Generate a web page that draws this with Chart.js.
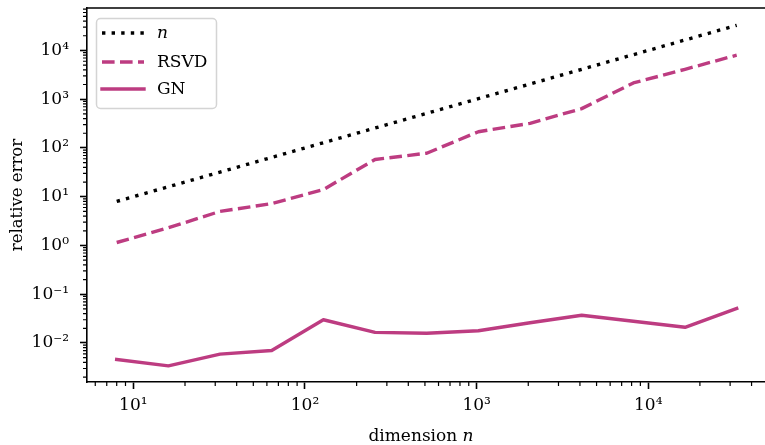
<!DOCTYPE html>
<html>
<head>
<meta charset="utf-8">
<script src="https://cdn.jsdelivr.net/npm/chart.js@4/dist/chart.umd.min.js"></script>
<style>
  html, body { margin: 0; padding: 0; background: #fff; overflow: hidden; }
  #wrap { width: 780px; height: 445px; }
</style>
</head>
<body>
<div id="wrap"><canvas id="c" width="780" height="445"></canvas></div>
<script>
// ---- data ----
const dims = [8, 16, 32, 64, 128, 256, 512, 1024, 2048, 4096, 8192, 16384, 32768];
const nValues = [8, 16, 32, 64, 128, 256, 512, 1024, 2048, 4096, 8192, 16384, 32768];
const rsvdValues = [1.15, 2.3, 5.0, 7.2, 14, 58, 78, 215, 320, 640, 2150, 4100, 8000];
const gnValues = [0.0046, 0.0034, 0.0059, 0.0070, 0.030, 0.0165, 0.0158, 0.0178, 0.026, 0.037, 0.028, 0.021, 0.051];
const seriesLabels = ['n', 'RSVD', 'GN'];
const xTickValues = [10, 100, 1000, 10000];
const xTickLabels = ['10\u00B9', '10\u00B2', '10\u00B3', '10\u2074'];
const yTickValues = [0.01, 0.1, 1, 10, 100, 1000, 10000];
const yTickLabels = ['10\u207B\u00B2', '10\u207B\u00B9', '10\u2070', '10\u00B9', '10\u00B2', '10\u00B3', '10\u2074'];
const xTitle = 'dimension';
const xTitleVar = 'n';
const yTitle = 'relative error';

// ---- styles ----
const MAG = '#bd3c81';
const FONT = 'DejaVu Serif';
const LW = 3.4;
const SPINE = 1.6;

function pts(vals) { return dims.map((d, i) => ({ x: d, y: vals[i] })); }

function minorTicks(lo, hi) {
  const out = [];
  for (let e = Math.floor(Math.log10(lo)); e <= Math.ceil(Math.log10(hi)); e++) {
    for (let m = 2; m <= 9; m++) {
      const v = m * Math.pow(10, e);
      if (v >= lo && v <= hi) out.push(v);
    }
  }
  return out;
}

const styles = [
  { color: '#000', dash: [3.4, 6.2], cap: 'butt' },
  { color: MAG, dash: [12.6, 5.4], cap: 'butt' },
  { color: MAG, dash: [], cap: 'square' }
];

const extras = {
  id: 'extras',
  afterDraw(chart) {
    const ctx = chart.ctx;
    const a = chart.chartArea;
    const xs = chart.scales.x, ys = chart.scales.y;
    ctx.save();
    // top and right spines
    ctx.strokeStyle = '#000';
    ctx.lineWidth = SPINE;
    ctx.beginPath();
    ctx.moveTo(a.left - SPINE / 2, a.top);
    ctx.lineTo(a.right, a.top);
    ctx.lineTo(a.right, a.bottom);
    ctx.stroke();
    // minor ticks
    ctx.lineWidth = 1.2;
    ctx.beginPath();
    minorTicks(xs.min, xs.max).forEach(v => {
      const px = xs.getPixelForValue(v);
      ctx.moveTo(px, a.bottom);
      ctx.lineTo(px, a.bottom + 4);
    });
    minorTicks(ys.min, ys.max).forEach(v => {
      const py = ys.getPixelForValue(v);
      ctx.moveTo(a.left, py);
      ctx.lineTo(a.left - 4, py);
    });
    ctx.stroke();

    // x axis title with italic variable
    ctx.fillStyle = '#000';
    ctx.textBaseline = 'alphabetic';
    ctx.font = '17px "' + FONT + '"';
    const w1 = ctx.measureText(xTitle + ' ').width;
    ctx.font = 'italic 17px "' + FONT + '"';
    const w2 = ctx.measureText(xTitleVar).width;
    const cx = (a.left + a.right) / 2 - 6;
    let x0 = cx - (w1 + w2) / 2;
    ctx.font = '17px "' + FONT + '"';
    ctx.textAlign = 'left';
    ctx.fillText(xTitle + ' ', x0, 441);
    ctx.font = 'italic 17px "' + FONT + '"';
    ctx.fillText(xTitleVar, x0 + w1, 441);

    // legend
    const bx = 96.5, by = 18.5, bw = 120, bh = 90, r = 4;
    ctx.beginPath();
    ctx.moveTo(bx + r, by);
    ctx.arcTo(bx + bw, by, bx + bw, by + bh, r);
    ctx.arcTo(bx + bw, by + bh, bx, by + bh, r);
    ctx.arcTo(bx, by + bh, bx, by, r);
    ctx.arcTo(bx, by, bx + bw, by, r);
    ctx.closePath();
    ctx.fillStyle = 'rgba(255,255,255,0.8)';
    ctx.fill();
    ctx.strokeStyle = '#d4d4d4';
    ctx.lineWidth = 1.5;
    ctx.stroke();
    const rows = [33, 62, 89];
    seriesLabels.forEach((lab, i) => {
      const st = styles[i];
      ctx.strokeStyle = st.color;
      ctx.lineWidth = LW;
      ctx.setLineDash(st.dash);
      ctx.lineCap = st.cap;
      ctx.beginPath();
      ctx.moveTo(102, rows[i]);
      ctx.lineTo(144, rows[i]);
      ctx.stroke();
      ctx.setLineDash([]);
      ctx.fillStyle = '#000';
      ctx.textBaseline = 'middle';
      ctx.textAlign = 'left';
      ctx.font = (i === 0 ? 'italic ' : '') + '17px "' + FONT + '"';
      ctx.fillText(lab, 157, rows[i] + 1);
    });
    ctx.restore();
  }
};

const ds = [nValues, rsvdValues, gnValues].map((vals, i) => ({
  label: seriesLabels[i],
  data: pts(vals),
  borderColor: styles[i].color,
  borderDash: styles[i].dash,
  borderCapStyle: styles[i].cap,
  borderJoinStyle: 'round',
  borderWidth: LW,
  pointRadius: 0,
  tension: 0,
  fill: false
}));

new Chart(document.getElementById('c'), {
  type: 'line',
  data: { datasets: ds },
  plugins: [extras],
  options: {
    responsive: false,
    animation: false,
    devicePixelRatio: 1,
    layout: { padding: { left: 0, top: 8, right: 13, bottom: 0 } },
    plugins: { legend: { display: false }, tooltip: { enabled: false } },
    scales: {
      x: {
        type: 'logarithmic',
        position: 'bottom',
        min: Math.pow(10, 0.73),
        max: Math.pow(10, 4.692),
        afterBuildTicks: s => { s.ticks = xTickValues.map(v => ({ value: v, major: true })); },
        afterFit: s => { s.height = 63; s.paddingLeft = 0; s.paddingRight = 0; },
        ticks: {
          autoSkip: false, maxRotation: 0, minRotation: 0,
          color: '#000', padding: 6,
          font: { family: FONT, size: 17 },
          callback: (v, i) => xTickLabels[i]
        },
        grid: { drawOnChartArea: false, tickLength: 7, tickWidth: SPINE, tickColor: '#000' },
        border: { display: true, color: '#000', width: SPINE }
      },
      y: {
        type: 'logarithmic',
        position: 'left',
        min: Math.pow(10, -2.8),
        max: Math.pow(10, 4.87),
        afterBuildTicks: s => { s.ticks = yTickValues.map(v => ({ value: v, major: true })); },
        afterFit: s => { s.width = 87; s.paddingTop = 0; s.paddingBottom = 0; },
        ticks: {
          autoSkip: false,
          color: '#000', padding: 11,
          font: { family: FONT, size: 17 },
          callback: (v, i) => yTickLabels[i]
        },
        grid: { drawOnChartArea: false, tickLength: 7, tickWidth: SPINE, tickColor: '#000' },
        border: { display: true, color: '#000', width: SPINE },
        title: {
          display: true, text: yTitle, color: '#000',
          font: { family: FONT, size: 16.5 },
          padding: { top: 8, bottom: 0 }
        }
      }
    }
  }
});
</script>
</body>
</html>
